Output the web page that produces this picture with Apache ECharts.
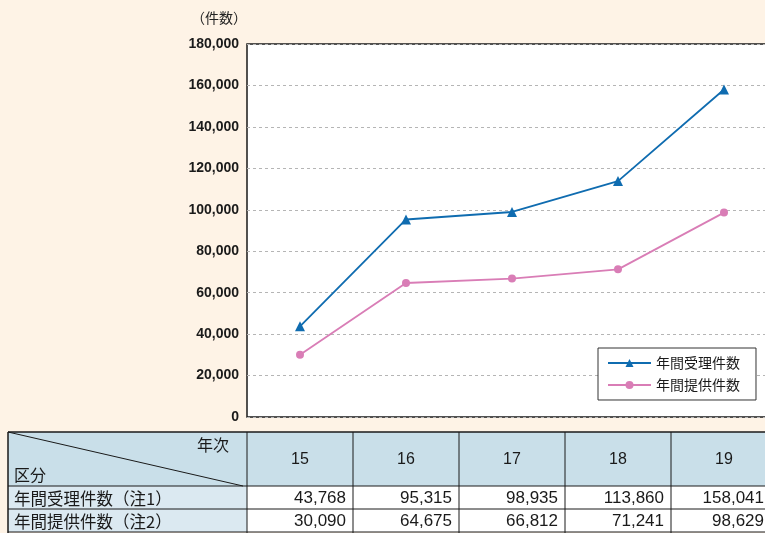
<!DOCTYPE html>
<html>
<head>
<meta charset="utf-8">
<script src="https://cdn.jsdelivr.net/npm/echarts@6/dist/echarts.min.js"></script>
<style>
  html, body { margin: 0; padding: 0; background: #fef3e6; }
  #chart { width: 765px; height: 533px; }
</style>
</head>
<body>
<div id="chart"></div>
<script>
// Years (平成) and yearly counts
const years = ['15', '16', '17', '18', '19'];
const received = [43768, 95315, 98935, 113860, 158041];
const provided = [30090, 64675, 66812, 71241, 98629];
const seriesNames = ['年間受理件数', '年間提供件数'];
const rowLabels = ['年間受理件数（注1）', '年間提供件数（注2）'];
const yTicks = { min: 0, max: 180000, interval: 20000 };

const FONT = "'Liberation Sans', 'Noto Sans CJK JP', sans-serif";
const JP = "'Noto Sans CJK JP', sans-serif";
const BLUE = '#0f6cb0';
const PINK = '#d97db6';

const chart = echarts.init(document.getElementById('chart'));

const option = {
  backgroundColor: '#fef3e6',
  animation: false,
  textStyle: { fontFamily: FONT },
  grid: {
    left: 247, top: 44, width: 530, height: 373,
    outerBoundsMode: 'none',
    show: true, backgroundColor: '#ffffff', borderColor: '#1a1a1a', borderWidth: 1.5
  },
  xAxis: {
    type: 'category', data: years, boundaryGap: true,
    axisLine: { show: false }, axisTick: { show: false }, axisLabel: { show: false },
    splitLine: { show: false }
  },
  yAxis: {
    type: 'value', min: yTicks.min, max: yTicks.max, interval: yTicks.interval,
    name: '（件数）', nameLocation: 'end', nameGap: 19,
    nameTextStyle: { color: '#222', fontSize: 14, fontFamily: JP, align: 'right' },
    axisLine: { show: false }, axisTick: { show: false },
    axisLabel: {
      color: '#1a1a1a', fontSize: 14, fontWeight: 'bold', margin: 8,
      formatter: v => v.toLocaleString('en-US')
    },
    splitLine: { show: true, lineStyle: { color: '#b5b5b5', type: [3, 3], width: 1 } }
  },
  legend: {
    orient: 'vertical', left: 598, top: 348,
    backgroundColor: '#ffffff', borderColor: '#333', borderWidth: 1, borderRadius: 0,
    padding: [8, 16, 8, 9], itemGap: 8, itemWidth: 43, itemHeight: 10,
    textStyle: { fontSize: 14, color: '#1a1a1a', fontFamily: JP },
    data: seriesNames
  },
  series: [
    {
      name: seriesNames[0], type: 'line', data: received,
      symbol: 'triangle', symbolSize: 10,
      lineStyle: { color: BLUE, width: 1.8 }, itemStyle: { color: BLUE }
    },
    {
      name: seriesNames[1], type: 'line', data: provided,
      symbol: 'circle', symbolSize: 8,
      lineStyle: { color: PINK, width: 1.8 }, itemStyle: { color: PINK }
    }
  ]
};
chart.setOption(option);

// Data table under the plot, columns aligned with the category bands
function buildTable() {
  const centers = years.map((_, i) => chart.convertToPixel({ xAxisIndex: 0 }, i));
  const band = centers.length > 1 ? centers[1] - centers[0] : 106;
  const rightEdge = Math.min(centers[centers.length - 1] + band / 2, chart.getWidth() + 6);
  const colEdges = [8].concat(centers.map(c => c - band / 2)).concat([rightEdge]);
  const rowEdges = [432, 486, 509, 532];
  const HEAD = '#c9dfe9';
  const els = [];

  // header background
  els.push({ type: 'rect', shape: { x: colEdges[0], y: rowEdges[0], width: colEdges[colEdges.length - 1] - colEdges[0], height: rowEdges[1] - rowEdges[0] }, style: { fill: HEAD } });
  // row label cells
  els.push({ type: 'rect', shape: { x: colEdges[0], y: rowEdges[1], width: colEdges[1] - colEdges[0], height: rowEdges[3] - rowEdges[1] }, style: { fill: '#dbe9f1' } });
  // value cells
  els.push({ type: 'rect', shape: { x: colEdges[1], y: rowEdges[1], width: colEdges[colEdges.length - 1] - colEdges[1], height: rowEdges[3] - rowEdges[1] }, style: { fill: '#ffffff' } });

  // grid lines
  rowEdges.forEach((y, i) => {
    els.push({ type: 'line', shape: { x1: colEdges[0], y1: y, x2: colEdges[colEdges.length - 1], y2: y }, style: { stroke: '#1a1a1a', lineWidth: i === 0 ? 1.5 : 1 } });
  });
  colEdges.forEach((x, i) => {
    els.push({ type: 'line', shape: { x1: x, y1: rowEdges[0], x2: x, y2: rowEdges[3] + 2 }, style: { stroke: '#1a1a1a', lineWidth: i === 0 ? 1.5 : 1 } });
  });
  // diagonal in corner cell
  els.push({ type: 'line', shape: { x1: colEdges[0], y1: rowEdges[0], x2: colEdges[1] - 4, y2: rowEdges[1] }, style: { stroke: '#1a1a1a', lineWidth: 1 } });

  els.push({ type: 'text', x: colEdges[1] - 18, y: rowEdges[0] + 5, style: { text: '年次', font: `16px ${JP}`, fill: '#1a1a1a', align: 'right', verticalAlign: 'top' } });
  els.push({ type: 'text', x: colEdges[0] + 6, y: rowEdges[1] - 3, style: { text: '区分', font: `16px ${JP}`, fill: '#1a1a1a', align: 'left', verticalAlign: 'bottom' } });

  years.forEach((yr, i) => {
    els.push({ type: 'text', x: centers[i], y: (rowEdges[0] + rowEdges[1]) / 2 + 1, style: { text: yr, font: `16px ${FONT}`, fill: '#1a1a1a', align: 'center', verticalAlign: 'middle' } });
  });

  [received, provided].forEach((vals, r) => {
    const yMid = (rowEdges[r + 1] + rowEdges[r + 2]) / 2 + 1;
    els.push({ type: 'text', x: colEdges[0] + 6, y: yMid, style: { text: rowLabels[r], font: `16.5px ${JP}`, fill: '#1a1a1a', align: 'left', verticalAlign: 'middle' } });
    vals.forEach((v, i) => {
      els.push({ type: 'text', x: colEdges[i + 2] - 7, y: yMid, style: { text: v.toLocaleString('en-US'), font: `17px ${FONT}`, fill: '#1a1a1a', align: 'right', verticalAlign: 'middle' } });
    });
  });

  chart.setOption({ graphic: { elements: els } });
}
buildTable();
</script>
</body>
</html>
